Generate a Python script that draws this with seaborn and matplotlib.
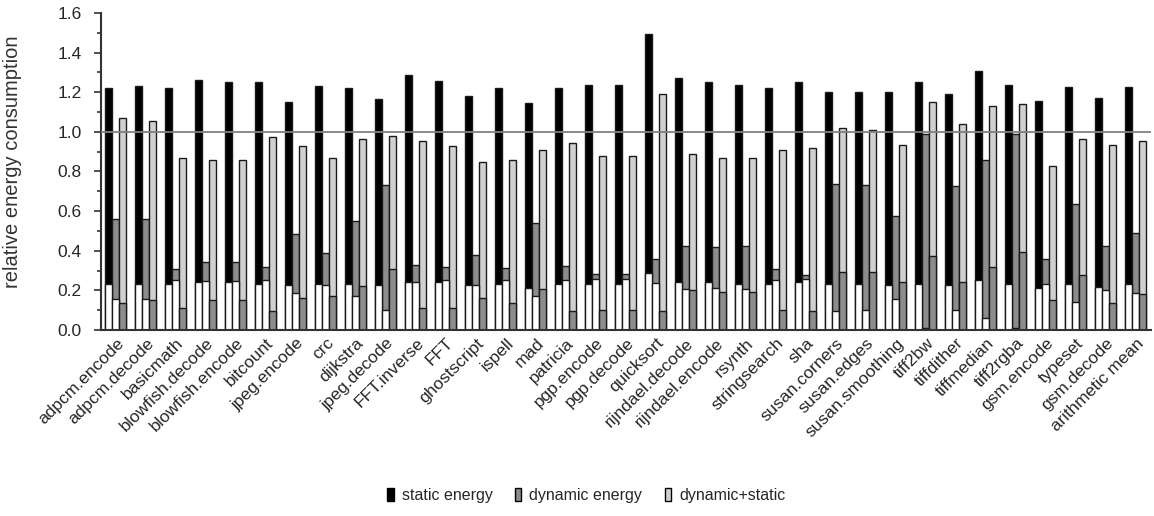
import matplotlib
matplotlib.use("Agg")
import matplotlib.pyplot as plt
from matplotlib.patches import Patch
from matplotlib.ticker import MultipleLocator
import seaborn as sns
import pandas as pd

benchmarks = ["adpcm.encode", "adpcm.decode", "basicmath", "blowfish.decode", "blowfish.encode",
              "bitcount", "jpeg.encode", "crc", "dijkstra", "jpeg.decode", "FFT.inverse", "FFT",
              "ghostscript", "ispell", "mad", "patricia", "pgp.encode", "pgp.decode", "quicksort",
              "rijndael.decode", "rijndael.encode", "rsynth", "stringsearch", "sha", "susan.corners",
              "susan.edges", "susan.smoothing", "tiff2bw", "tiffdither", "tiffmedian", "tiff2rgba",
              "gsm.encode", "typeset", "gsm.decode", "arithmetic mean"]

# bar totals
static_top = [1.22, 1.23, 1.22, 1.26, 1.25, 1.25, 1.15, 1.23, 1.22, 1.165, 1.285, 1.258, 1.18, 1.22,
              1.143, 1.22, 1.237, 1.237, 1.493, 1.274, 1.25, 1.237, 1.22, 1.25, 1.20, 1.20, 1.20,
              1.25, 1.19, 1.305, 1.237, 1.153, 1.225, 1.17, 1.225]
dynamic_top = [0.56, 0.56, 0.31, 0.345, 0.345, 0.32, 0.483, 0.39, 0.55, 0.73, 0.33, 0.32, 0.38, 0.315,
               0.54, 0.325, 0.28, 0.28, 0.36, 0.426, 0.418, 0.426, 0.308, 0.275, 0.737, 0.73, 0.577,
               0.99, 0.727, 0.86, 0.99, 0.358, 0.635, 0.426, 0.49]
combined_top = [1.07, 1.057, 0.87, 0.86, 0.86, 0.976, 0.926, 0.87, 0.965, 0.98, 0.955, 0.926, 0.85, 0.86,
                0.907, 0.943, 0.88, 0.88, 1.19, 0.889, 0.87, 0.87, 0.907, 0.918, 1.02, 1.01, 0.934,
                1.15, 1.04, 1.13, 1.14, 0.825, 0.963, 0.934, 0.955]
# lower segments inside each bar
static_low = [0.233, 0.233, 0.233, 0.242, 0.242, 0.233, 0.225, 0.233, 0.233, 0.225, 0.242, 0.242, 0.225,
              0.233, 0.213, 0.233, 0.23, 0.23, 0.287, 0.242, 0.242, 0.233, 0.233, 0.242, 0.233, 0.233,
              0.225, 0.233, 0.225, 0.25, 0.233, 0.213, 0.233, 0.215, 0.233]
dynamic_low = [0.158, 0.158, 0.25, 0.245, 0.245, 0.25, 0.187, 0.225, 0.17, 0.103, 0.242, 0.25, 0.225,
               0.25, 0.17, 0.25, 0.258, 0.258, 0.237, 0.208, 0.213, 0.205, 0.25, 0.258, 0.095, 0.103,
               0.158, 0.008, 0.103, 0.058, 0.008, 0.233, 0.142, 0.2, 0.187]
combined_low = [0.137, 0.153, 0.113, 0.153, 0.153, 0.095, 0.162, 0.17, 0.22, 0.31, 0.113, 0.113, 0.162,
                0.137, 0.208, 0.095, 0.103, 0.103, 0.095, 0.2, 0.19, 0.19, 0.103, 0.097, 0.292, 0.292,
                0.242, 0.375, 0.242, 0.32, 0.392, 0.153, 0.275, 0.137, 0.183]

series = ["static energy", "dynamic energy", "dynamic+static"]

rows = []
for i, b in enumerate(benchmarks):
    for s, top, low in zip(series, (static_top, dynamic_top, combined_top),
                           (static_low, dynamic_low, combined_low)):
        rows.append({"bench": b, "series": s, "top": top[i], "low": low[i]})
df = pd.DataFrame(rows)

BLACK = "#000000"
GRAY = "#8c8c8c"
LIGHT = "#d0d0d0"

sns.set_style("ticks")
plt.rcParams["font.family"] = ["Liberation Sans", "DejaVu Sans"]

fig = plt.figure(figsize=(11.54, 5.16), dpi=100)
ax = fig.add_axes([0.0875, 0.3605, 0.9099, 0.6145])

sns.barplot(data=df, x="bench", y="top", hue="series", hue_order=series,
            palette=[BLACK, GRAY, LIGHT], width=0.7, edgecolor="#1a1a1a", linewidth=1.0,
            legend=False, ax=ax, errorbar=None)
sns.barplot(data=df, x="bench", y="low", hue="series", hue_order=series,
            palette=["white", "white", GRAY], width=0.7, edgecolor="#1a1a1a", linewidth=1.0,
            legend=False, ax=ax, errorbar=None)

ax.axhline(1.0, color="#808080", lw=1.3, zorder=5)

ax.set_xlim(-0.5, len(benchmarks) - 0.5)
ax.set_ylim(0, 1.6)
ax.yaxis.set_minor_locator(MultipleLocator(0.1))
ax.set_yticks([0.0, 0.2, 0.4, 0.6, 0.8, 1.0, 1.2, 1.4, 1.6])
ax.set_yticklabels(["0.0", "0.2", "0.4", "0.6", "0.8", "1.0", "1.2", "1.4", "1.6"], fontsize=12.5)
ax.tick_params(axis="y", which="major", length=5, width=1.2, color="#333333", pad=9)
ax.tick_params(axis="y", which="minor", length=3, width=1.2, color="#333333")
ax.tick_params(axis="x", length=0, pad=4)
ax.set_xticks(range(len(benchmarks)))
ax.set_xticklabels(benchmarks, rotation=45, ha="right", rotation_mode="anchor", fontsize=12.5)
ax.set_xlabel("")
ax.set_ylabel("relative energy consumption", fontsize=14.5, color="#333333", labelpad=22)
ax.yaxis.set_label_coords(-0.075, 0.53)
for sp in ("top", "right"):
    ax.spines[sp].set_visible(False)
ax.spines["left"].set_color("#333333")
ax.spines["left"].set_linewidth(1.5)
ax.spines["bottom"].set_color("#333333")
ax.spines["bottom"].set_linewidth(1.5)

handles = [Patch(facecolor=BLACK, edgecolor="black", label=series[0]),
           Patch(facecolor=GRAY, edgecolor="black", label=series[1]),
           Patch(facecolor=LIGHT, edgecolor="black", label=series[2])]
fig.legend(handles=handles, loc="center", bbox_to_anchor=(0.508, 0.04), ncol=3, frameon=False,
           handlelength=0.4, handleheight=0.9, handletextpad=0.5, columnspacing=1.4, fontsize=11.5)

fig.savefig("out.png", dpi=100)
